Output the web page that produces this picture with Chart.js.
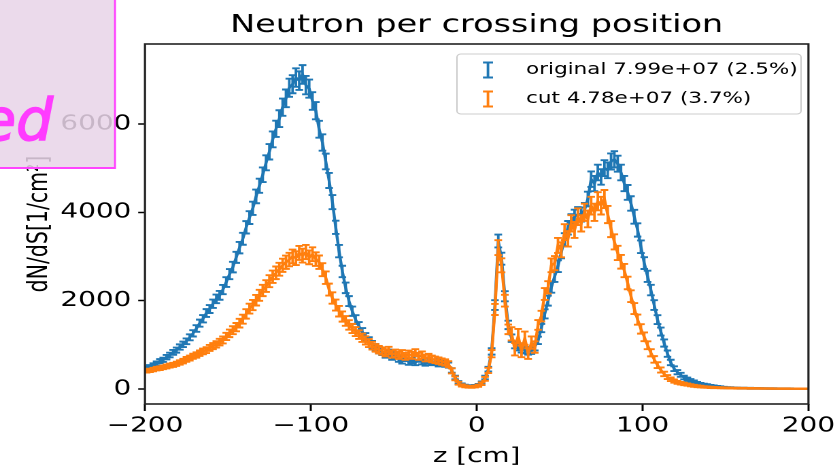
<!DOCTYPE html>
<html>
<head>
<meta charset="utf-8">
<script src="https://cdn.jsdelivr.net/npm/chart.js@4.4.1/dist/chart.umd.min.js"></script>
<style>
body{margin:0;background:#fff;overflow:hidden}
#wrap{width:617px;height:469px;transform:scaleX(1.36);transform-origin:0 0}
</style>
</head>
<body>
<div id="wrap"><canvas id="chart" width="617" height="469"></canvas></div>
<script>
// bins: 2 cm wide, centres -199 ... 199
const binLo=-199, binStep=2, nBins=200;
const zCenters=[];
for(let i=0;i<nBins;i++) zCenters.push(binLo+i*binStep);

// one row = 10 bins = 20 cm
const originalVals=[
  470,500,540,580,630,660,720,770,830,880,
  950,1010,1080,1170,1260,1370,1490,1590,1720,1810,
  1930,2040,2120,2250,2420,2600,2760,2980,3200,3400,
  3660,3880,4090,4360,4600,4850,5120,5370,5650,5890,
  6120,6380,6580,6820,6900,7050,6980,7120,6880,6800,
  6520,6300,5880,5580,5150,4720,4230,3660,3120,2660,
  2290,1990,1760,1570,1420,1290,1180,1090,1010,940,
  880,840,780,820,730,760,680,640,700,610,
  650,600,680,620,590,640,600,610,570,600,
  560,540,420,260,150,100,75,65,60,70,
  90,140,260,450,850,1900,3350,2950,2100,1450,
  1150,1000,950,900,880,850,870,950,1100,1380,
  1700,2000,2300,2550,2780,3100,3380,3650,3800,3900,
  3960,3950,4050,4300,4750,4650,4900,4800,5000,4950,
  5150,5200,5100,4900,4650,4450,4200,3900,3600,3220,
  2850,2550,2240,1900,1570,1300,1040,800,600,460,
  380,320,260,220,190,160,130,110,95,85,
  70,60,50,42,35,30,26,23,21,19,
  17,16,15,14,13,12,11,11,10,10,
  9,9,8,8,8,7,7,7,6,6
];
const originalErr=[
  40,40,42,44,46,47,50,52,55,57,
  60,62,65,68,72,75,80,83,88,90,
  95,98,100,105,110,115,120,125,130,135,
  140,145,150,155,160,165,170,175,180,185,
  190,195,200,205,205,210,210,212,208,205,
  200,196,190,185,178,170,160,150,140,130,
  120,112,105,100,95,90,85,82,78,76,
  74,72,70,71,68,69,66,64,67,63,
  65,62,66,63,61,64,62,62,60,62,
  59,58,50,40,30,24,21,20,19,21,
  24,30,40,52,72,110,145,136,115,95,
  85,80,78,76,75,74,75,78,84,94,
  104,113,121,127,133,141,147,153,156,158,
  159,159,161,166,175,173,177,175,179,178,
  182,183,181,177,172,168,163,157,151,143,
  134,127,119,110,100,91,81,71,62,54,
  49,45,41,37,35,32,29,27,25,23,
  21,20,18,17,15,14,13,12,12,11,
  11,10,10,9,9,9,8,8,8,8,
  7,7,7,7,7,6,6,6,6,6
];
const cutVals=[
  410,420,440,460,470,490,510,530,545,570,
  600,630,670,700,740,770,810,850,880,930,
  970,1010,1060,1110,1190,1260,1330,1400,1490,1580,
  1700,1820,1900,2010,2120,2230,2330,2440,2540,2630,
  2710,2800,2870,2930,3000,2960,3080,3020,3100,2980,
  3050,2940,2870,2700,2520,2250,2060,1900,1760,1640,
  1540,1450,1370,1300,1230,1160,1100,1040,980,930,
  890,860,820,870,790,810,760,800,740,790,
  760,820,740,770,700,720,680,660,640,620,
  600,560,410,240,130,80,60,50,45,55,
  75,120,230,420,800,1800,3200,2800,2000,1350,
  1250,900,1200,850,1150,800,1050,950,1450,1650,
  2150,2300,2800,2850,3250,3150,3550,3400,3750,3600,
  3900,3750,4000,3850,4150,4000,4250,4150,4300,3950,
  3620,3330,3080,2880,2680,2400,2100,1820,1570,1360,
  1180,990,820,670,540,430,340,270,220,180,
  150,130,115,100,85,72,62,54,47,42,
  37,33,30,27,25,23,21,19,18,17,
  16,15,14,13,12,11,11,10,10,9,
  9,8,8,8,7,7,7,6,6,6
];
const cutErr=[
  38,38,40,41,42,43,44,45,46,48,
  50,52,54,56,58,60,62,64,66,68,
  70,72,75,78,82,86,90,94,98,102,
  107,112,116,120,124,128,132,136,140,143,
  146,149,151,153,156,155,158,157,160,156,
  158,155,152,147,142,135,129,124,119,115,
  111,107,104,101,98,95,93,90,88,86,
  85,84,82,84,80,81,79,81,78,80,
  79,82,78,79,76,77,75,74,73,72,
  71,68,58,44,33,26,22,20,19,21,
  25,32,44,60,82,125,168,158,133,108,
  150,140,160,130,150,120,140,130,110,120,
  135,140,155,160,170,170,180,175,185,180,
  190,185,195,190,200,195,205,200,205,195,
  182,172,162,155,150,142,133,124,115,107,
  99,90,82,74,66,58,51,45,40,36,
  33,30,28,26,24,22,20,19,17,16,
  15,14,13,12,12,11,11,10,10,10,
  9,9,9,8,8,8,8,7,7,7,
  7,7,7,6,6,6,6,6,5,5
];
const seriesLabels=['original 7.99e+07 (2.5%)','cut 4.78e+07 (3.7%)'];
const xTicks=[-200,-100,0,100,200];
const yTicks=[0,2000,4000,6000];

const SX=1.36; // picture is stretched horizontally
const FONT='"DejaVu Sans"';
Chart.defaults.font.family='DejaVu Sans';
Chart.defaults.color='#000';

const pts=vals=>vals.map((v,i)=>({x:zCenters[i],y:v}));
const fmt=v=>v<0?'\u2212'+Math.abs(v):String(v);

const errorBars={
  id:'errorBars',
  afterDatasetDraw(chart,args){
    const ds=chart.data.datasets[args.index];
    if(!ds.yErr) return;
    const {ctx,chartArea:a,scales:{x,y}}=chart;
    ctx.save();
    ctx.beginPath();ctx.rect(a.left,a.top,a.right-a.left,a.bottom-a.top);ctx.clip();
    ctx.strokeStyle=ds.borderColor;ctx.lineWidth=1.9;
    ctx.beginPath();
    ds.data.forEach((p,i)=>{
      const px=x.getPixelForValue(p.x);
      const t=y.getPixelForValue(p.y+ds.yErr[i]),b=y.getPixelForValue(p.y-ds.yErr[i]);
      ctx.moveTo(px,t);ctx.lineTo(px,b);
      ctx.moveTo(px-2.8,t);ctx.lineTo(px+2.8,t);
      ctx.moveTo(px-2.8,b);ctx.lineTo(px+2.8,b);
    });
    ctx.stroke();ctx.restore();
  }
};

const decor={
  id:'decor',
  afterDatasetsDraw(chart){
    const {ctx,chartArea:a}=chart;
    ctx.save();
    ctx.strokeStyle='#222';ctx.lineWidth=1.6;
    ctx.strokeRect(a.left,a.top,a.right-a.left,a.bottom-a.top);
    ctx.restore();
  },
  afterDraw(chart){
    const {ctx,chartArea:a}=chart;
    ctx.save();
    // title
    ctx.fillStyle='#000';ctx.font='24.6px '+FONT;ctx.textAlign='center';ctx.textBaseline='alphabetic';
    ctx.fillText('Neutron per crossing position',(a.left+a.right)/2,32);
    // legend
    const lx=336,ly=54,lw=253,lh=60;
    ctx.beginPath();ctx.roundRect(lx,ly,lw,lh,3);
    ctx.fillStyle='rgba(255,255,255,0.8)';ctx.fill();
    ctx.strokeStyle='#cccccc';ctx.lineWidth=1;ctx.stroke();
    const rows=[70,99];
    chart.data.datasets.forEach(ds=>{
      const cy=rows[ds.legendRow];
      ctx.strokeStyle=ds.borderColor;ctx.lineWidth=1.9;
      ctx.beginPath();
      ctx.moveTo(358.8,cy-7.5);ctx.lineTo(358.8,cy+7.5);
      ctx.moveTo(355.1,cy-7.5);ctx.lineTo(362.5,cy-7.5);
      ctx.moveTo(355.1,cy+7.5);ctx.lineTo(362.5,cy+7.5);
      ctx.stroke();
      ctx.fillStyle='#000';ctx.font='15.8px '+FONT;ctx.textAlign='left';ctx.textBaseline='middle';
      ctx.fillText(ds.label,386.8,cy);
    });
    ctx.restore();
    // pink stamp on top, drawn in unstretched page pixels
    ctx.save();
    ctx.scale(1/SX,1);
    ctx.fillStyle='rgba(232,212,232,0.86)';
    ctx.fillRect(-5,-5,120,173);
    ctx.strokeStyle='#ff44ff';ctx.lineWidth=2;
    ctx.strokeRect(-5,-5,120,173);
    ctx.fillStyle='#ff3cff';ctx.font='italic 58px '+FONT;ctx.textAlign='right';ctx.textBaseline='alphabetic';
    ctx.lineWidth=1.5;ctx.strokeStyle='#ff3cff';
    ctx.fillText('ed',53,140);
    ctx.strokeText('ed',53,140);
    ctx.restore();
  }
};

new Chart(document.getElementById('chart'),{
  type:'line',
  data:{datasets:[
    {label:seriesLabels[0],data:pts(originalVals),yErr:originalErr,borderColor:'#1f77b4',backgroundColor:'#1f77b4',borderWidth:2.2,pointRadius:0,tension:0,order:1,legendRow:0},
    {label:seriesLabels[1],data:pts(cutVals),yErr:cutErr,borderColor:'#ff7f0e',backgroundColor:'#ff7f0e',borderWidth:2.2,pointRadius:0,tension:0,order:0,legendRow:1}
  ]},
  options:{
    responsive:false,
    devicePixelRatio:2,
    animation:false,
    events:[],
    layout:{padding:{left:0,right:20,top:44,bottom:0}},
    plugins:{legend:{display:false},title:{display:false},tooltip:{enabled:false}},
    scales:{
      x:{
        type:'linear',min:-200,max:200,
        afterBuildTicks:s=>{s.ticks=xTicks.map(v=>({value:v}));},
        afterFit:s=>{s.height=65;},
        border:{display:false},
        grid:{drawOnChartArea:false,drawTicks:true,tickLength:7,tickWidth:1.5,tickColor:'#000'},
        ticks:{font:{size:20.5},padding:3,maxRotation:0,callback:fmt},
        title:{display:true,text:'z [cm]',font:{size:20.5},padding:{top:0,bottom:0}}
      },
      y:{
        min:-340,max:7810,
        afterBuildTicks:s=>{s.ticks=yTicks.map(v=>({value:v}));},
        afterFit:s=>{s.width=106.6;},
        border:{display:false},
        grid:{drawOnChartArea:false,drawTicks:true,tickLength:5,tickWidth:1.5,tickColor:'#000'},
        ticks:{font:{size:20.5},padding:5,callback:fmt},
        title:{display:true,text:'dN/dS[1/cm\u00b2]',font:{size:20.5},padding:{top:17,bottom:0}}
      }
    }
  },
  plugins:[errorBars,decor]
});
</script>
</body>
</html>
